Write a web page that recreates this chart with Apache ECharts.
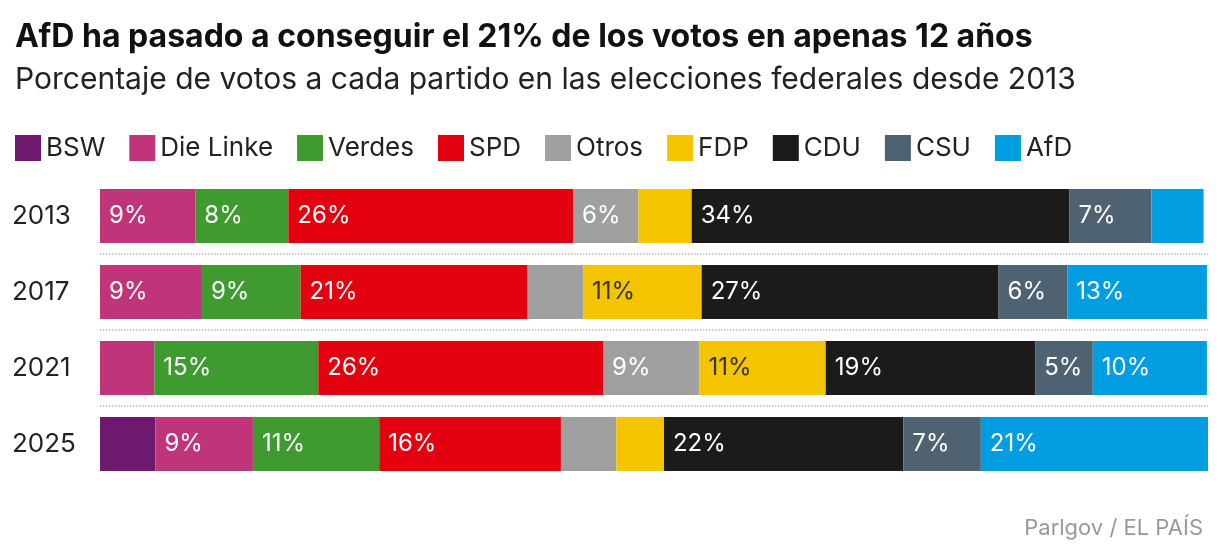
<!DOCTYPE html><html><head><meta charset="utf-8"><script src="https://cdn.jsdelivr.net/npm/echarts@6/dist/echarts.min.js"></script></head><body style="margin:0"><div id="c" style="width:1220px;height:556px"></div><script>
const years=['2013','2017','2021','2025'];
const parties=['BSW','Die Linke','Verdes','SPD','Otros','FDP','CDU','CSU','AfD'];
const colors=['#6d1a6e','#c0357a','#3f9a2f','#e3000f','#a0a0a0','#f5c400','#1b1b1b','#4f6272','#009ee0'];
const BSW=[0,0,0,5.0];
const Linke=[8.6,9.2,4.9,8.8];
const Verdes=[8.4,8.9,14.8,11.4];
const SPD=[25.7,20.5,25.7,16.4];
const Otros=[5.9,5.0,8.7,5.0];
const FDP=[4.8,10.7,11.4,4.3];
const CDU=[34.1,26.8,18.9,21.6];
const CSU=[7.4,6.2,5.2,7.0];
const AfD=[4.7,12.6,10.3,20.8];
const vals=[BSW,Linke,Verdes,SPD,Otros,FDP,CDU,CSU,AfD];
const F='Inter, "Noto Sans", sans-serif';
const ch=echarts.init(document.getElementById('c'));
ch.setOption({
 title:[{text:'AfD ha pasado a conseguir el 21% de los votos en apenas 12 años',left:10,top:16,textStyle:{fontFamily:F,fontSize:32,fontWeight:'bold',color:'#111'}},
 {text:'Porcentaje de votos a cada partido en las elecciones federales desde 2013',left:10,top:60,textStyle:{fontFamily:F,fontSize:30,fontWeight:'normal',color:'#222'}},
 {text:'Parlgov / EL PAÍS',right:12,top:512,textStyle:{fontFamily:F,fontSize:22,fontWeight:'normal',color:'#999'}}],
 legend:{left:10,top:130,itemWidth:26,itemHeight:26,itemGap:24,icon:'rect',textStyle:{fontFamily:F,fontSize:26,color:'#222'},data:parties},
 grid:{left:100,right:12,top:178,height:304},
 xAxis:{type:'value',min:0,max:100,show:false},
 yAxis:{type:'category',data:years,inverse:true,axisLine:{show:false},axisTick:{show:false},
  axisLabel:{fontFamily:F,fontSize:26,color:'#222',margin:88,align:'left'},
  splitLine:{show:true,showMaxLine:false,showMinLine:false,interval:0,lineStyle:{color:'#bbb',type:'dotted',width:1.5}}},
 series:parties.map((p,i)=>({name:p,type:'bar',stack:'t',barWidth:54,itemStyle:{color:colors[i]},
  data:vals[i],
  label:{show:true,position:'insideLeft',offset:[4,0],fontFamily:F,fontSize:24,color:p==='FDP'?'#333':'#fff',
   formatter:d=>d.value>=5.1?Math.round(d.value)+'%':''}}))
});
</script></body></html>
